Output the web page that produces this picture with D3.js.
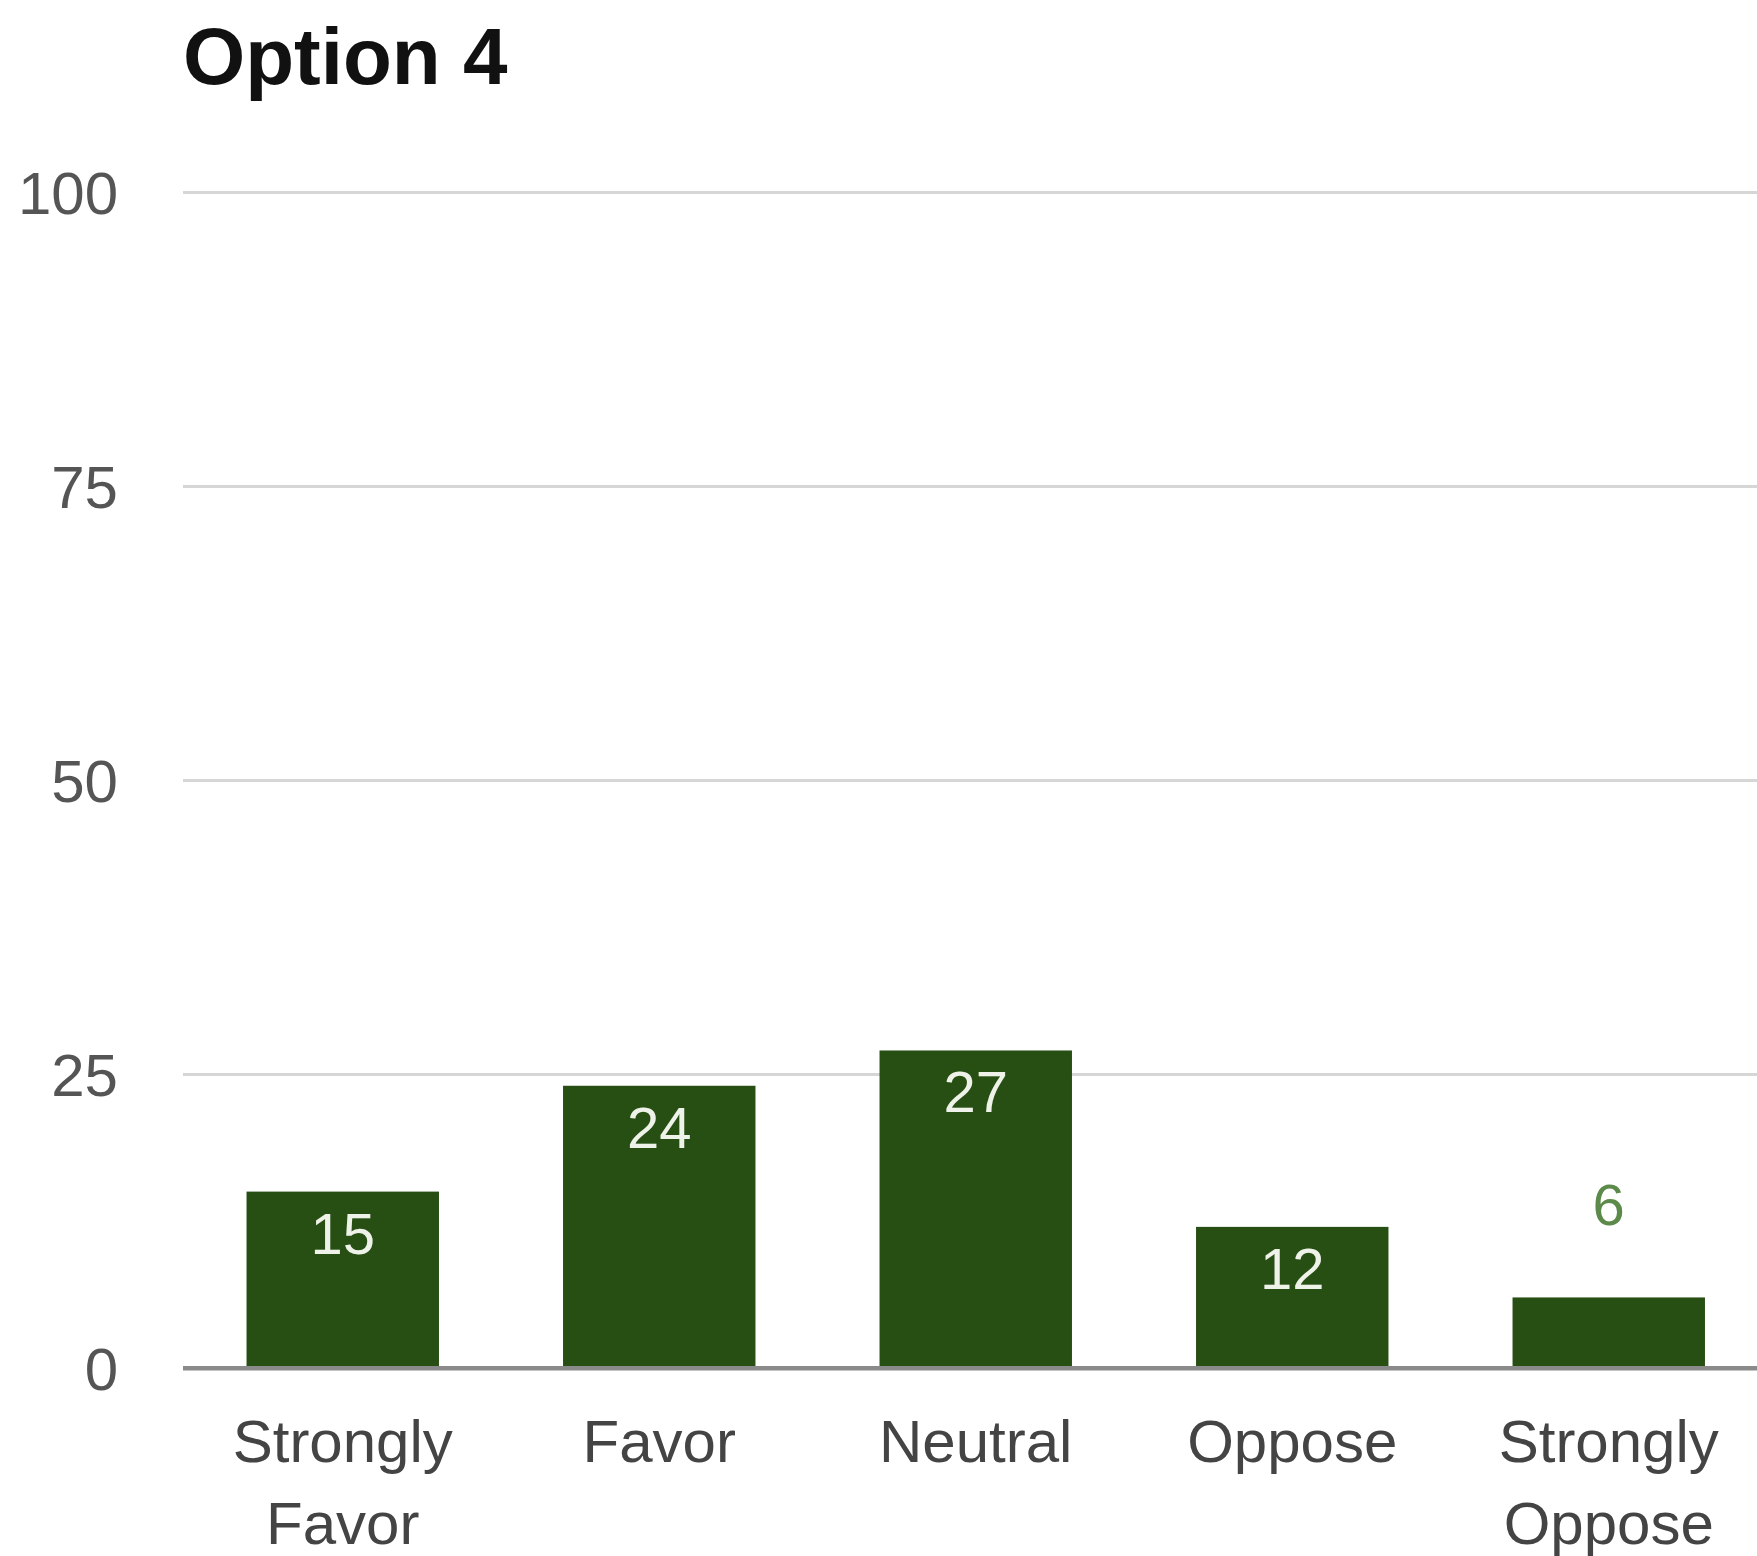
<!DOCTYPE html>
<html>
<head>
<meta charset="utf-8">
<script src="https://cdn.jsdelivr.net/npm/d3@7"></script>
<style>
  html, body { margin: 0; padding: 0; background: #fff; }
  svg { display: block; font-family: "Liberation Sans", Arial, Helvetica, sans-serif; }
</style>
</head>
<body>
<svg id="chart" width="1757" height="1556"></svg>
<script>
// Survey responses for Option 4
const title = "Option 4";
const categories = ["Strongly Favor", "Favor", "Neutral", "Oppose", "Strongly Oppose"];
const values = [15, 24, 27, 12, 6];
const yTicks = [0, 25, 50, 75, 100];

const svg = d3.select("#chart");
const plot = { left: 183, right: 1767, top: 192, bottom: 1368 };

const x = d3.scaleBand()
  .domain(categories)
  .range([184.5, plot.right])
  .paddingInner(0.392)
  .paddingOuter(0.196);

const y = d3.scaleLinear()
  .domain([0, 100])
  .range([plot.bottom, plot.top]);

// Title
svg.append("text")
  .attr("x", 183)
  .attr("y", 84)
  .attr("font-size", 80)
  .attr("font-weight", "bold")
  .attr("fill", "#111")
  .text(title);

// Horizontal gridlines and value axis labels
const yAxis = d3.axisLeft(y)
  .tickValues(yTicks)
  .tickSize(-(1757 - plot.left))
  .tickPadding(65)
  .tickFormat(d3.format("d"));

const gy = svg.append("g")
  .attr("transform", `translate(${plot.left},0)`)
  .call(yAxis);
gy.select(".domain").remove();
gy.selectAll(".tick line")
  .attr("stroke", d => d === 0 ? "#8a8a8a" : "#d6d6d6")
  .attr("stroke-width", d => d === 0 ? 4 : 3);
gy.selectAll(".tick text")
  .attr("font-size", 60)
  .attr("fill", "#555")
  .attr("dy", "0.36em")
  .attr("font-family", "\"Liberation Sans\", Arial, sans-serif");

// Bars
svg.append("g")
  .selectAll("rect")
  .data(values)
  .join("rect")
  .attr("x", (d, i) => x(categories[i]))
  .attr("width", x.bandwidth())
  .attr("y", d => y(d))
  .attr("height", d => y(0) - y(d))
  .attr("fill", "#274e13");

// Redraw the zero line above the bars
svg.append("line")
  .attr("x1", plot.left)
  .attr("x2", 1757)
  .attr("y1", y(0))
  .attr("y2", y(0))
  .attr("stroke", "#8a8a8a")
  .attr("stroke-width", 4);

// Value labels: inside the bar when it is tall enough, above it otherwise
svg.append("g")
  .selectAll("text")
  .data(values)
  .join("text")
  .attr("x", (d, i) => x(categories[i]) + x.bandwidth() / 2)
  .attr("y", d => (y(0) - y(d) > 100) ? y(d) + 62 : y(d) - 72)
  .attr("text-anchor", "middle")
  .attr("font-size", 58)
  .attr("fill", d => (y(0) - y(d) > 100) ? "#eef2e8" : "#5b8a4b")
  .text(d => d);

// Category labels, wrapped onto two lines
const gx = svg.append("g")
  .selectAll("text")
  .data(categories)
  .join("text")
  .attr("x", d => x(d) + x.bandwidth() / 2)
  .attr("y", 1462)
  .attr("text-anchor", "middle")
  .attr("font-size", 60)
  .attr("fill", "#444");
gx.each(function(d) {
  const words = d.split(" ");
  const t = d3.select(this);
  words.forEach((w, i) => {
    t.append("tspan")
      .attr("x", t.attr("x"))
      .attr("dy", i === 0 ? 0 : 82)
      .text(w);
  });
});
</script>
</body>
</html>
